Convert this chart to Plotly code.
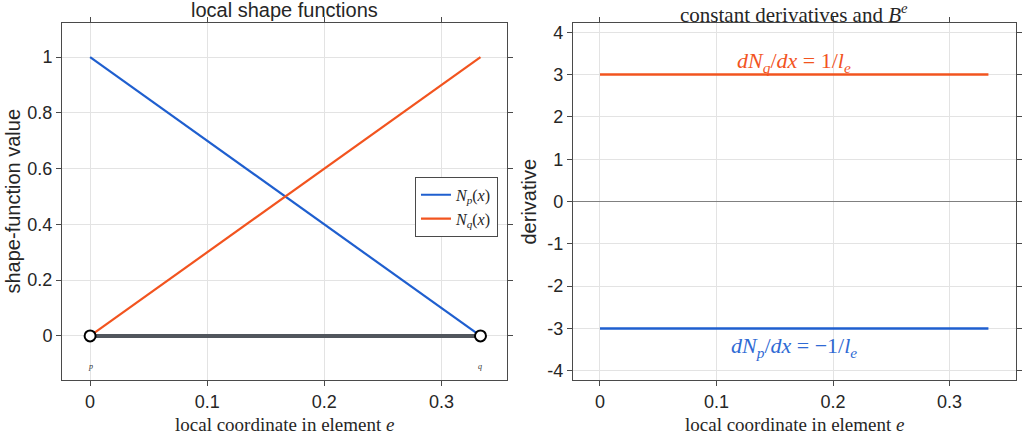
import plotly.graph_objects as go
from plotly.subplots import make_subplots

# element data
x_nodes = [0, 1/3]
node_names = ["p", "q"]
N_p = [1, 0]
N_q = [0, 1]
dN_p = [-3, -3]
dN_q = [3, 3]
y_zero = [0, 0]

blue = "#1f5fcf"
orange = "#f2541f"
txt = "#262626"
sans = "Liberation Sans, Arial, sans-serif"
serif = "Liberation Serif, Times New Roman, serif"

fig = make_subplots(rows=1, cols=2)

# left: shape functions
fig.add_trace(go.Scatter(x=x_nodes, y=y_zero, mode="lines",
                         line=dict(color="#51565d", width=4), showlegend=False), 1, 1)
fig.add_trace(go.Scatter(x=x_nodes, y=N_p, mode="lines", line=dict(color=blue, width=2.2),
                         name="<i>N</i><sub><i>p</i></sub>(<i>x</i>)"), 1, 1)
fig.add_trace(go.Scatter(x=x_nodes, y=N_q, mode="lines", line=dict(color=orange, width=2.2),
                         name="<i>N</i><sub><i>q</i></sub>(<i>x</i>)"), 1, 1)
fig.add_trace(go.Scatter(x=x_nodes, y=y_zero, mode="markers",
                         marker=dict(size=11, color="white", line=dict(color="black", width=2)),
                         showlegend=False), 1, 1)
for xn, nm in zip(x_nodes, node_names):
    fig.add_annotation(x=xn, y=-0.11, text="<i>" + nm + "</i>", showarrow=False,
                       font=dict(family=serif, size=8, color="#333333"), xref="x", yref="y")

# right: derivatives
fig.add_trace(go.Scatter(x=x_nodes, y=dN_q, mode="lines", line=dict(color=orange, width=2.5),
                         showlegend=False), 1, 2)
fig.add_trace(go.Scatter(x=x_nodes, y=dN_p, mode="lines", line=dict(color=blue, width=2.5),
                         showlegend=False), 1, 2)
fig.add_annotation(x=1/6, y=3.30, xref="x2", yref="y2", showarrow=False,
                   text="<i>dN</i><sub><i>q</i></sub>/<i>dx</i> = 1/<i>l</i><sub><i>e</i></sub>",
                   font=dict(family=serif, size=22, color=orange))
fig.add_annotation(x=1/6, y=-3.44, xref="x2", yref="y2", showarrow=False,
                   text="<i>dN</i><sub><i>p</i></sub>/<i>dx</i> = \u22121/<i>l</i><sub><i>e</i></sub>",
                   font=dict(family=serif, size=22, color="#2f6ad4"))

axis_style = dict(showline=True, linecolor="#4a4a4a", linewidth=1, mirror="ticks",
                  ticks="outside", ticklen=5, tickcolor="#4a4a4a", automargin=False,
                  showgrid=True, gridcolor="#e3e3e3", zeroline=False,
                  tickfont=dict(family=sans, size=18, color=txt))

fig.update_xaxes(axis_style)
fig.update_yaxes(axis_style)

xt = [0, 0.1, 0.2, 0.3]
xt_lab = ["0", "0.1", "0.2", "0.3"]
fig.update_xaxes(domain=[0, 0.4665], range=[-0.024, 0.356], tickvals=xt, ticktext=xt_lab,
                 row=1, col=1)
fig.update_xaxes(domain=[0.5356, 1], range=[-0.0232, 0.357], tickvals=xt, ticktext=xt_lab,
                 row=1, col=2)
fig.update_yaxes(domain=[0, 1], range=[-0.158, 1.122],
                 tickvals=[0, 0.2, 0.4, 0.6, 0.8, 1],
                 ticktext=["0", "0.2", "0.4", "0.6", "0.8", "1"], row=1, col=1)
yt = [-4, -3, -2, -1, 0, 1, 2, 3, 4]
fig.update_yaxes(domain=[0, 1], range=[-4.22, 4.22], tickvals=yt,
                 ticktext=[str(v) for v in yt],
                 zeroline=True, zerolinecolor="#808080", zerolinewidth=1, row=1, col=2)

# titles and axis labels
fig.add_annotation(x=0.2333, y=1.036, xref="paper", yref="paper", xanchor="center",
                   yanchor="middle", showarrow=False,
                   text="local shape functions", font=dict(family=sans, size=20, color=txt))
fig.add_annotation(x=0.7678, y=1.026, xref="paper", yref="paper", xanchor="center",
                   yanchor="middle", showarrow=False,
                   text="constant derivatives and <i>B</i><sup><i>e</i></sup>",
                   font=dict(family=serif, size=21, color=txt))
for xc in [0.2333, 0.7678]:
    fig.add_annotation(x=xc, y=-0.126, xref="paper", yref="paper", xanchor="center",
                       yanchor="middle", showarrow=False,
                       text="local coordinate in element <i>e</i>",
                       font=dict(family=serif, size=19, color=txt))
fig.add_annotation(x=-0.0524, y=0.5, xref="paper", yref="paper", textangle=-90,
                   xanchor="center", yanchor="middle",
                   showarrow=False, text="shape-function value",
                   font=dict(family=sans, size=20, color=txt))
fig.add_annotation(x=0.4885, y=0.5, xref="paper", yref="paper", textangle=-90,
                   xanchor="center", yanchor="middle",
                   showarrow=False, text="derivative",
                   font=dict(family=sans, size=20, color=txt))

fig.update_layout(width=1024, height=435, margin=dict(l=62, r=8, t=23, b=55),
                  paper_bgcolor="white", plot_bgcolor="white",
                  legend=dict(x=0.370, y=0.569, xanchor="left", yanchor="top",
                              bgcolor="white", bordercolor="#4a4a4a", borderwidth=1,
                              font=dict(family=serif, size=16, color=txt),
                              itemwidth=30, tracegroupgap=0))

# drop the default body margin so the figure sits at the window's corner
fig.write_html("out.html", config={"displayModeBar": False},
               post_script="document.body.style.margin='0';")
